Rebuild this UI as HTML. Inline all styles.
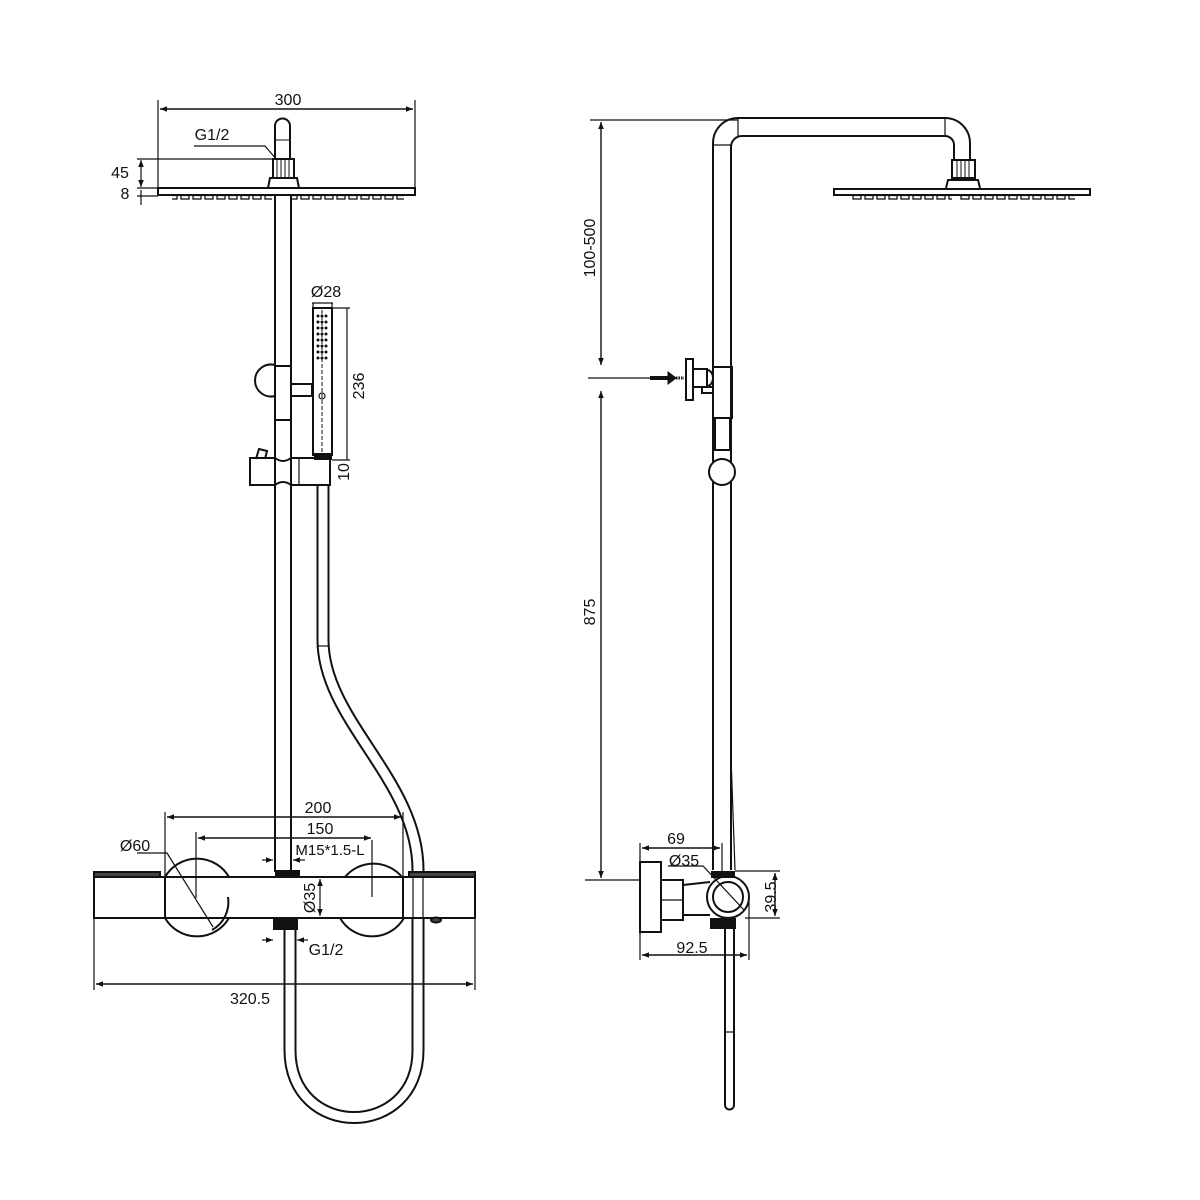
<!DOCTYPE html>
<html><head><meta charset="utf-8"><style>
html,body{margin:0;padding:0;background:#fff}
svg{display:block}
text{font-family:"Liberation Sans",sans-serif;font-size:16px;fill:#111}
</style></head><body>
<svg width="1200" height="1200" viewBox="0 0 1200 1200" xmlns="http://www.w3.org/2000/svg">
<defs>
<marker id="a" viewBox="0 0 10 10" refX="10" refY="5" markerWidth="14" markerHeight="7" orient="auto-start-reverse" markerUnits="userSpaceOnUse"><path d="M0,1 L10,5 L0,9 z" fill="#111"/></marker>
<pattern id="noz" x="0" y="0" width="12" height="5" patternUnits="userSpaceOnUse"><rect x="1" y="0.5" width="8" height="3.5" fill="none" stroke="#111" stroke-width="1.3"/></pattern>
</defs>
<g fill="none" stroke="#111" stroke-width="2">
<!-- ===== LEFT VIEW ===== -->
<line x1="158" y1="100" x2="158" y2="190" stroke-width="1.2"/>
<line x1="415" y1="100" x2="415" y2="190" stroke-width="1.2"/>
<line x1="160" y1="109" x2="413" y2="109" stroke-width="1.4" marker-start="url(#a)" marker-end="url(#a)"/>
<path d="M275,160 L275,126 A7.5,7.5 0 0 1 290,126 L290,160"/>
<line x1="275" y1="140" x2="290" y2="140" stroke-width="1"/>
<rect x="273" y="159" width="21" height="19"/>
<line x1="277" y1="160" x2="277" y2="177" stroke-width="1"/><line x1="281" y1="160" x2="281" y2="177" stroke-width="1"/><line x1="285" y1="160" x2="285" y2="177" stroke-width="1"/><line x1="289" y1="160" x2="289" y2="177" stroke-width="1"/>
<path d="M268,188 L270,178 L297,178 L299,188"/>
<rect x="158" y="188" width="257" height="7"/>
<rect x="172" y="195" width="100" height="5" fill="url(#noz)" stroke="none"/>
<rect x="292" y="195" width="112" height="5" fill="url(#noz)" stroke="none"/>
<path d="M194,146 L265,146 L277,160" stroke-width="1.2"/>
<line x1="137" y1="159" x2="275" y2="159" stroke-width="1.2"/>
<line x1="137" y1="188" x2="158" y2="188" stroke-width="1.2"/>
<line x1="137" y1="196" x2="158" y2="196" stroke-width="1.2"/>
<line x1="141" y1="160" x2="141" y2="187" stroke-width="1.2" marker-start="url(#a)" marker-end="url(#a)"/>
<line x1="141" y1="190" x2="141" y2="205" stroke-width="1.2"/>
<line x1="275" y1="195" x2="275" y2="872"/>
<line x1="291" y1="195" x2="291" y2="872"/>
<path d="M275,365 A16,16 0 1 0 275,396"/>
<rect x="275" y="366" width="16" height="54"/>
<rect x="291" y="384" width="21" height="12"/>
<rect x="313" y="308" width="19" height="147"/>
<line x1="322" y1="310" x2="322" y2="452" stroke-width="1" stroke-dasharray="4,2"/>
<g fill="#111" stroke="none">
<circle cx="318" cy="316" r="1.5"/><circle cx="322" cy="316" r="1.5"/><circle cx="326" cy="316" r="1.5"/>
<circle cx="318" cy="322" r="1.5"/><circle cx="322" cy="322" r="1.5"/><circle cx="326" cy="322" r="1.5"/>
<circle cx="318" cy="328" r="1.5"/><circle cx="322" cy="328" r="1.5"/><circle cx="326" cy="328" r="1.5"/>
<circle cx="318" cy="334" r="1.5"/><circle cx="322" cy="334" r="1.5"/><circle cx="326" cy="334" r="1.5"/>
<circle cx="318" cy="340" r="1.5"/><circle cx="322" cy="340" r="1.5"/><circle cx="326" cy="340" r="1.5"/>
<circle cx="318" cy="346" r="1.5"/><circle cx="322" cy="346" r="1.5"/><circle cx="326" cy="346" r="1.5"/>
<circle cx="318" cy="352" r="1.5"/><circle cx="322" cy="352" r="1.5"/><circle cx="326" cy="352" r="1.5"/>
<circle cx="318" cy="358" r="1.5"/><circle cx="322" cy="358" r="1.5"/><circle cx="326" cy="358" r="1.5"/>
<rect x="314" y="453" width="18" height="7"/>
</g>
<circle cx="322" cy="396" r="3" stroke-width="1.2"/>
<line x1="313" y1="303" x2="313" y2="308" stroke-width="1.2"/><line x1="332" y1="303" x2="332" y2="308" stroke-width="1.2"/>
<line x1="312" y1="303" x2="333" y2="303" stroke-width="1.2"/>
<line x1="332" y1="308" x2="350" y2="308" stroke-width="1.2"/>
<line x1="347" y1="308" x2="347" y2="460" stroke-width="1.2"/>
<line x1="332" y1="460" x2="350" y2="460" stroke-width="1.2"/>
<path d="M250,458 L275,458 Q283,464 291,458 L330,458 L330,485 L291,485 Q283,479 275,485 L250,485 Z"/>
<line x1="299" y1="458" x2="299" y2="485" stroke-width="1.2"/>
<path d="M256,459 L259,449 L267,451 L265,459"/>
<path d="M323,486 L323,640 C323,720 418,780 418,870 L418,1050 C418,1140 290,1140 290,1050 L290,930" stroke-width="13"/>
<path d="M323,486 L323,640 C323,720 418,780 418,870 L418,1050 C418,1140 290,1140 290,1050 L290,930" stroke="#fff" stroke-width="9"/>
<line x1="318" y1="646" x2="328" y2="646" stroke-width="1.2"/>
<path d="M165,877 A37,37 0 0 1 229,877"/>
<path d="M165,918 A37,37 0 0 0 229,918"/>
<path d="M345,877 A37,37 0 0 1 402,877"/>
<path d="M340,918 A37,37 0 0 0 404,918"/>
<rect x="94" y="877" width="381" height="41" fill="#fff"/>
<line x1="165" y1="877" x2="165" y2="918"/>
<line x1="403" y1="877" x2="403" y2="918"/>
<rect x="94" y="872" width="66" height="5" fill="#444"/>
<rect x="409" y="872" width="66" height="5" fill="#444"/>
<line x1="413" y1="877" x2="413" y2="918" stroke-width="1.2"/>
<line x1="423" y1="877" x2="423" y2="918" stroke-width="1.2"/>
<ellipse cx="436" cy="920" rx="5" ry="2.5" fill="#444"/>
<line x1="372" y1="840" x2="372" y2="897" stroke-width="1.2"/>
<line x1="196" y1="832" x2="196" y2="898" stroke-width="1.2"/>
<path d="M228,897 A32,32 0 0 1 212,930"/>
<rect x="275" y="870" width="25" height="8" fill="#111" stroke="none"/>
<rect x="273" y="919" width="25" height="11" fill="#111" stroke="none"/>
<line x1="165" y1="812" x2="165" y2="877" stroke-width="1.2"/>
<line x1="403" y1="812" x2="403" y2="877" stroke-width="1.2"/>
<line x1="167" y1="817" x2="401" y2="817" stroke-width="1.4" marker-start="url(#a)" marker-end="url(#a)"/>
<line x1="198" y1="838" x2="371" y2="838" stroke-width="1.4" marker-start="url(#a)" marker-end="url(#a)"/>
<line x1="262" y1="860" x2="273" y2="860" stroke-width="1.2" marker-end="url(#a)"/>
<line x1="305" y1="860" x2="293" y2="860" stroke-width="1.2" marker-end="url(#a)"/>
<line x1="320" y1="879" x2="320" y2="916" stroke-width="1.2" marker-start="url(#a)" marker-end="url(#a)"/>
<line x1="262" y1="940" x2="273" y2="940" stroke-width="1.2" marker-end="url(#a)"/>
<line x1="308" y1="940" x2="297" y2="940" stroke-width="1.2" marker-end="url(#a)"/>
<path d="M137,853 L167,853 L213,927" stroke-width="1.2"/>
<line x1="94" y1="918" x2="94" y2="990" stroke-width="1.2"/>
<line x1="475" y1="918" x2="475" y2="990" stroke-width="1.2"/>
<line x1="96" y1="984" x2="473" y2="984" stroke-width="1.4" marker-start="url(#a)" marker-end="url(#a)"/>

<!-- ===== RIGHT VIEW ===== -->
<line x1="590" y1="120" x2="738" y2="120" stroke-width="1.2"/>
<line x1="588" y1="378" x2="650" y2="378" stroke-width="1.2"/>
<line x1="585" y1="880" x2="640" y2="880" stroke-width="1.2"/>
<line x1="601" y1="122" x2="601" y2="365" stroke-width="1.4" marker-start="url(#a)" marker-end="url(#a)"/>
<line x1="601" y1="391" x2="601" y2="878" stroke-width="1.4" marker-start="url(#a)" marker-end="url(#a)"/>
<path d="M713,870 L713,143 A25,25 0 0 1 738,118 L945,118 A25,25 0 0 1 970,143 L970,160"/>
<path d="M731,870 L731,147 A11,11 0 0 1 742,136 L945,136 A9,9 0 0 1 954,145 L954,160"/>
<line x1="713" y1="145" x2="731" y2="145" stroke-width="1.2"/>
<line x1="738" y1="118" x2="738" y2="136" stroke-width="1.2"/>
<line x1="945" y1="118" x2="945" y2="136" stroke-width="1.2"/>
<rect x="952" y="160" width="23" height="18"/>
<line x1="957" y1="161" x2="957" y2="177" stroke-width="1"/><line x1="961" y1="161" x2="961" y2="177" stroke-width="1"/><line x1="965" y1="161" x2="965" y2="177" stroke-width="1"/><line x1="969" y1="161" x2="969" y2="177" stroke-width="1"/>
<path d="M946,188 L948,180 L978,180 L980,188"/>
<rect x="834" y="189" width="256" height="6"/>
<rect x="852" y="195" width="100" height="5" fill="url(#noz)" stroke="none"/>
<rect x="960" y="195" width="115" height="5" fill="url(#noz)" stroke="none"/>
<line x1="650" y1="378" x2="668" y2="378" stroke-width="4"/>
<path d="M668,372 L676,378 L668,384 Z" fill="#111" stroke-width="1"/>
<path d="M676,378 L684,378" stroke-width="3" stroke-dasharray="1.5,1"/>
<rect x="686" y="359" width="7" height="41"/>
<rect x="693" y="369" width="14" height="18"/>
<path d="M707,370 A6,8 0 0 1 707,386"/>
<rect x="702" y="387" width="11" height="6"/>
<rect x="713" y="367" width="19" height="51"/>
<rect x="715" y="418" width="15" height="32"/>
<circle cx="722" cy="472" r="13" fill="#fff"/>
<path d="M731,757 L735,870" stroke-width="1.2"/>
<rect x="640" y="862" width="21" height="70"/>
<rect x="661" y="880" width="22" height="40"/>
<line x1="661" y1="900" x2="683" y2="900" stroke-width="1.2"/>
<path d="M683,885 L710,882 M683,915 L710,915"/>
<circle cx="728" cy="897" r="21" fill="#fff"/>
<circle cx="728" cy="897" r="15"/>
<rect x="711" y="871" width="24" height="7" fill="#111" stroke="none"/>
<rect x="710" y="918" width="26" height="11" fill="#111" stroke="none"/>
<path d="M725,929 L725,1105 A4.5,4.5 0 0 0 734,1105 L734,929"/>
<line x1="725" y1="1032" x2="734" y2="1032" stroke-width="1.2"/>
<line x1="640" y1="843" x2="640" y2="862" stroke-width="1.2"/>
<line x1="722" y1="843" x2="722" y2="871" stroke-width="1.2"/>
<line x1="642" y1="848" x2="720" y2="848" stroke-width="1.4" marker-start="url(#a)" marker-end="url(#a)"/>
<path d="M668,866 L703,866 L744,910" stroke-width="1.2"/>
<line x1="735" y1="871" x2="780" y2="871" stroke-width="1.2"/>
<line x1="745" y1="918" x2="780" y2="918" stroke-width="1.2"/>
<line x1="775" y1="873" x2="775" y2="916" stroke-width="1.4" marker-start="url(#a)" marker-end="url(#a)"/>
<line x1="640" y1="932" x2="640" y2="960" stroke-width="1.2"/>
<line x1="749" y1="900" x2="749" y2="960" stroke-width="1.2"/>
<line x1="642" y1="955" x2="747" y2="955" stroke-width="1.4" marker-start="url(#a)" marker-end="url(#a)"/>
</g>
<text x="288" y="105" text-anchor="middle">300</text>
<text x="212" y="140" text-anchor="middle">G1/2</text>
<text x="120" y="178" text-anchor="middle">45</text>
<text x="125" y="199" text-anchor="middle">8</text>
<text x="326" y="297" text-anchor="middle">Ø28</text>
<text transform="translate(364,386) rotate(-90)" text-anchor="middle">236</text>
<text transform="translate(349,472) rotate(-90)" text-anchor="middle">10</text>
<text x="318" y="813" text-anchor="middle">200</text>
<text x="320" y="834" text-anchor="middle">150</text>
<text x="330" y="855" text-anchor="middle" style="font-size:15px">M15*1.5-L</text>
<text x="135" y="851" text-anchor="middle">Ø60</text>
<text transform="translate(315,898) rotate(-90)" text-anchor="middle">Ø35</text>
<text x="326" y="955" text-anchor="middle">G1/2</text>
<text x="250" y="1004" text-anchor="middle">320.5</text>
<text transform="translate(595,248) rotate(-90)" text-anchor="middle">100-500</text>
<text transform="translate(595,612) rotate(-90)" text-anchor="middle">875</text>
<text x="676" y="844" text-anchor="middle">69</text>
<text x="684" y="866" text-anchor="middle">Ø35</text>
<text transform="translate(776,897) rotate(-90)" text-anchor="middle">39.5</text>
<text x="692" y="953" text-anchor="middle">92.5</text>
</svg>
</body></html>
